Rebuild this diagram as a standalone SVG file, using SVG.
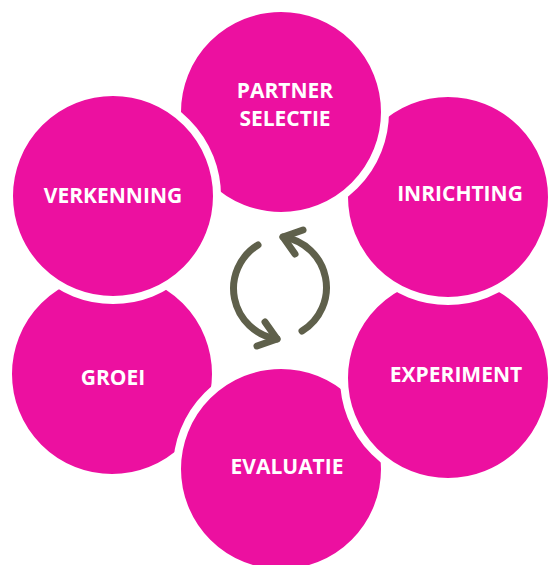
<svg xmlns="http://www.w3.org/2000/svg" width="549" height="565" viewBox="0 0 549 565">
  <style>
    .disc { fill: #EC10A0; stroke: #FFFFFF; stroke-width: 8; }
    .label { fill: #FFFFFF; font-family: "Open Sans", "Liberation Sans", sans-serif; font-weight: bold; font-size: 21px; text-anchor: middle; }
    .cycle { fill: none; stroke: #5F604B; stroke-width: 7; stroke-linecap: round; stroke-linejoin: round; }
  </style>
  <rect width="549" height="565" fill="#FFFFFF"/>

  <!-- phases, stacked so each disc sits over the next one clockwise -->
  <g id="groei">
    <circle class="disc" cx="112" cy="374" r="104"/>
    <text class="label" x="113" y="385">GROEI</text>
  </g>
  <g id="evaluatie">
    <circle class="disc" cx="281" cy="469" r="104"/>
    <text class="label" x="287" y="474">EVALUATIE</text>
  </g>
  <g id="experiment">
    <circle class="disc" cx="448" cy="378" r="104"/>
    <text class="label" x="456" y="382">EXPERIMENT</text>
  </g>
  <g id="inrichting">
    <circle class="disc" cx="448" cy="197" r="104"/>
    <text class="label" x="460" y="201">INRICHTING</text>
  </g>
  <g id="partner-selectie">
    <circle class="disc" cx="281" cy="112" r="104"/>
    <text class="label" x="285" y="98">PARTNER</text>
    <text class="label" x="285" y="126">SELECTIE</text>
  </g>
  <g id="verkenning">
    <circle class="disc" cx="113" cy="196" r="104"/>
    <text class="label" x="113" y="203">VERKENNING</text>
  </g>

  <!-- central cycle symbol -->
  <g id="connectors">
    <path class="cycle" d="M 258,245 A 51 51 0 0 0 277,339"/>
    <path class="cycle" d="M 265,322 L 277,339 L 257,346"/>
    <path class="cycle" d="M 302,331 A 51 51 0 0 0 283,237"/>
    <path class="cycle" d="M 295,254 L 283,237 L 303,230"/>
  </g>
</svg>
